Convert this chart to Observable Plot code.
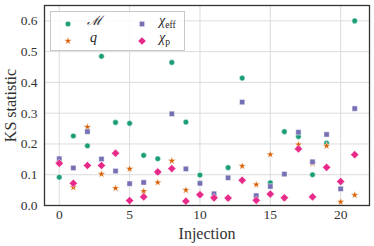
<!DOCTYPE html>
<html><head><meta charset="utf-8">
<script src="https://cdn.jsdelivr.net/npm/d3@7"></script>
<script src="https://cdn.jsdelivr.net/npm/@observablehq/plot@0.6"></script>
<style>
body{margin:0;background:#fff;}
#wrap{position:relative;width:374px;height:246px;}
#wrap svg text{font-family:"Liberation Serif","DejaVu Serif",serif;}
#legend{position:absolute;left:50px;top:11px;width:133px;height:38px;border:1px solid #c8c8c8;background:rgba(255,255,255,0.85);font-family:"Liberation Serif","DejaVu Serif",serif;color:#222;}
.mk{position:absolute;width:12px;height:12px;}
.lab{position:absolute;font-size:14px;line-height:16px;white-space:nowrap;}
.sb{font-size:9.5px;font-style:normal;position:relative;top:3px;}
</style></head>
<body><div id="wrap"></div>
<script>
const injections = d3.range(0, 22);
const seriesNames = ["M", "q", "chi_eff", "chi_p"];
const mValues = [0.092,0.226,0.194,0.485,0.270,0.267,0.163,0.152,0.465,0.271,0.099,0.030,0.123,0.414,0.030,0.074,0.240,0.224,0.100,0.203,0.076,0.600];
const qValues = [0.140,0.059,0.255,0.102,0.056,0.119,0.046,0.075,0.145,0.050,0.035,0.025,0.025,0.128,0.068,0.166,0.025,0.198,0.137,0.194,0.012,0.034];
const chiEffValues = [0.152,0.122,0.240,0.151,0.112,0.071,0.075,0.108,0.298,0.119,0.072,0.038,0.090,0.336,0.032,0.062,0.102,0.238,0.142,0.231,0.054,0.315];
const chiPValues = [0.137,0.072,0.130,0.130,0.170,0.016,0.028,0.109,0.120,0.014,0.035,0.025,0.024,0.082,0.017,0.037,0.025,0.184,0.028,0.124,0.078,0.165];
const xTicks = [0, 5, 10, 15, 20];
const yTicks = [0, 0.1, 0.2, 0.3, 0.4, 0.5, 0.6];
const colors = {M:"#1b9e77", q:"#d95f02", chi_eff:"#7570b3", chi_p:"#e7298a"};
const symbols = {M:"circle", q:"star", chi_eff:"square", chi_p:"diamond2"};
const radii = {M:2.8, q:2.5, chi_eff:3.0, chi_p:3.7};
const valuesBy = {M:mValues, q:qValues, chi_eff:chiEffValues, chi_p:chiPValues};

const font = '"Liberation Serif","DejaVu Serif",serif';
const marks = [
  Plot.gridX(xTicks, {stroke:"#dcdcdc", strokeOpacity:1, strokeWidth:1}),
  Plot.gridY(yTicks, {stroke:"#dcdcdc", strokeOpacity:1, strokeWidth:1}),
];
for (const s of seriesNames) {
  const data = injections.map((i) => ({x:i, y:valuesBy[s][i]}));
  marks.push(Plot.dot(data, {x:"x", y:"y", symbol:()=>symbols[s], r:radii[s], fill:colors[s], stroke:"white", strokeWidth:0.5}));
}
marks.push(Plot.axisX(xTicks, {tickSize:0, tickPadding:4, fontSize:13.5, fill:"#333", label:"Injection", labelAnchor:"center", labelArrow:"none", labelOffset:33}));
marks.push(Plot.axisY(yTicks, {tickSize:0, tickPadding:7, fontSize:13.5, fill:"#333", tickFormat:".1f", label:"KS statistic", labelAnchor:"center", labelArrow:"none", labelOffset:40}));
marks.push(Plot.frame({stroke:"#333", strokeWidth:1.3}));

const chart = Plot.plot({
  width:374, height:246,
  marginLeft:44, marginRight:5, marginTop:5, marginBottom:41,
  style:{fontSize:"13.5px", color:"#222", background:"white"},
  x:{domain:[-1.05,22.05]},
  y:{domain:[0,0.65]},
  symbol:{type:"identity"},
  marks
});
chart.style.fontFamily = font;
chart.querySelectorAll('[aria-label="x-axis label"] text, [aria-label="y-axis label"] text').forEach(t=>{t.style.fontSize="16px";});
const wrap = document.getElementById("wrap");
wrap.appendChild(chart);

// legend
const legend = document.createElement("div");
legend.id = "legend";
const labels = {M:'<span style="font-family:\'DejaVu Serif\',serif;font-style:italic;font-size:13px">ℳ</span>', q:'<i>q</i>', chi_eff:'<i>χ</i><span class="sb">eff</span>', chi_p:'<i>χ</i><span class="sb">p</span>'};
const pos = {M:[17,10,36], q:[17,27,39], chi_eff:[91,10,108], chi_p:[91,27,108]};
const d3sym = {circle:d3.symbolCircle, star:d3.symbolStar, square:d3.symbolSquare, diamond2:d3.symbolDiamond2};
for (const s of seriesNames) {
  const [mx,my,lx] = pos[s];
  const sym = d3.symbol(d3sym[symbols[s]], Math.PI*radii[s]*radii[s])();
  const m = document.createElement("div");
  m.className="mk"; m.style.left=(mx-6)+"px"; m.style.top=(my-6)+"px";
  m.innerHTML = `<svg width="12" height="12"><path transform="translate(6,6)" d="${sym}" fill="${colors[s]}" stroke="white" stroke-width="0.5"/></svg>`;
  legend.appendChild(m);
  const l = document.createElement("div");
  l.className="lab"; l.style.left=lx+"px"; l.style.top=(my-9)+"px";
  l.innerHTML = labels[s];
  legend.appendChild(l);
}
wrap.appendChild(legend);
</script></body></html>
